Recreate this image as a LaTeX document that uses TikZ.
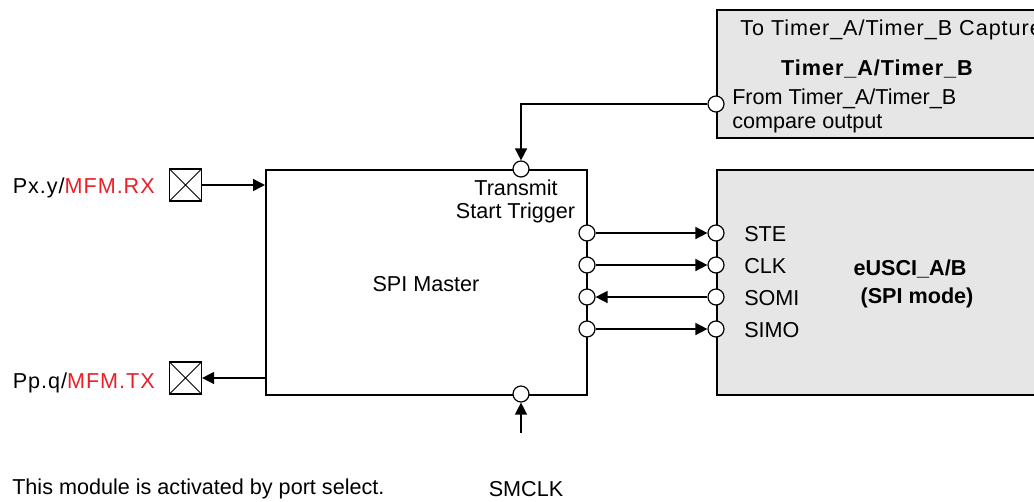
\documentclass[tikz,border=0pt]{standalone}
\usepackage{fontspec}
\setmainfont{Liberation Sans}
\usetikzlibrary{arrows.meta}
\definecolor{boxgray}{HTML}{E6E6E6}
\definecolor{sigred}{HTML}{E8202A}
\begin{document}
\begin{tikzpicture}[x=0.75pt,y=-0.75pt,
  every node/.style={font=\fontsize{16.2pt}{18pt}\selectfont, inner sep=0pt},
  txt/.style={anchor=base},
  txtw/.style={anchor=base west},
  wide/.style={font=\fontsize{16.2pt}{18pt}\selectfont\addfontfeature{LetterSpace=4.5}},
  bold/.style={font=\fontsize{16.2pt}{18pt}\selectfont\bfseries},
  boldwide/.style={font=\fontsize{16.2pt}{18pt}\selectfont\bfseries\addfontfeature{LetterSpace=4.5}},
  mainbox/.style={draw, line width=1.8pt, minimum width=240.75pt, minimum height=168.75pt, anchor=north west},
  graybox/.style={draw, line width=1.8pt, fill=boxgray, anchor=north west},
  port/.style={draw, circle, fill=white, line width=0.9pt, minimum size=12pt},
  pin/.style={draw, line width=0.9pt, minimum size=24pt,
    path picture={\draw[line width=0.7pt] (path picture bounding box.south west) -- (path picture bounding box.north east)
      (path picture bounding box.north west) -- (path picture bounding box.south east);}},
  conn/.style={line width=1.1pt, -{Triangle[length=9pt,width=9pt]}}]
\useasboundingbox (0,0) rectangle (1034,501);
\clip (0,0) rectangle (1034,501);

% boxes
\node[mainbox] (spi) at (265,169) {};
\node[graybox, minimum width=255pt, minimum height=96pt] (timer) at (716,9) {};
\node[graybox, minimum width=255pt, minimum height=168.75pt] (eusci) at (716,169) {};

% texts
\node[txt] (spilbl) at (426,291) {SPI Master};
\node[txt] (tst1) at (516,195) {Transmit};
\node[txt] (tst2) at (515.5,218) {Start Trigger};
\node[txt, bold] (eu1) at (910,275) {eUSCI\_A/B};
\node[txt, bold] (eu2) at (917,303) {(SPI mode)};
\node[txtw, wide] (tocap) at (740,35) {To Timer\_A/Timer\_B Capture};
\node[txt, boldwide] (tlbl) at (877,75) {Timer\_A/Timer\_B};
\node[txtw] (from1) at (732,104) {From Timer\_A/Timer\_B};
\node[txtw] (from2) at (732,128) {compare output};
\node[txtw] (ste) at (744,241) {STE};
\node[txtw] (clk) at (744,273) {CLK};
\node[txtw] (somi) at (744,305) {SOMI};
\node[txtw] (simo) at (744,337) {SIMO};
\node[anchor=base east, wide] (rx) at (155,193) {Px.y/\textcolor{sigred}{MFM.RX}};
\node[anchor=base east, wide] (tx) at (155,388) {Pp.q/\textcolor{sigred}{MFM.TX}};
\node[txt] (smclk) at (526,496) {SMCLK};
\node[txtw] (note) at (12,494) {This module is activated by port select.};

% pins
\node[pin] (pinrx) at (185.5,185) {};
\node[pin] (pintx) at (185.5,378) {};

% ports
\node[port] (ptt) at (521,169) {};
\node[port] (pclk) at (521,394) {};
\node[port] (tout) at (716,104) {};
\node[port] (a1) at (587,233) {};
\node[port] (a2) at (587,265) {};
\node[port] (a3) at (587,297) {};
\node[port] (a4) at (587,329) {};
\node[port] (b1) at (716,233) {};
\node[port] (b2) at (716,265) {};
\node[port] (b3) at (716,297) {};
\node[port] (b4) at (716,329) {};
\coordinate (smclkend) at (521,433);

% connectors
\draw[conn] (tout.west) -| (ptt.north);
\draw[conn] (pinrx.east) -- (pinrx.east -| spi.west);
\draw[conn] (pintx.east -| spi.west) -- (pintx.east);
\draw[conn] (smclkend) -- (pclk.south);
\draw[conn] (a1) -- (b1);
\draw[conn] (a2) -- (b2);
\draw[conn] (b3) -- (a3);
\draw[conn] (a4) -- (b4);
\end{tikzpicture}
\end{document}
